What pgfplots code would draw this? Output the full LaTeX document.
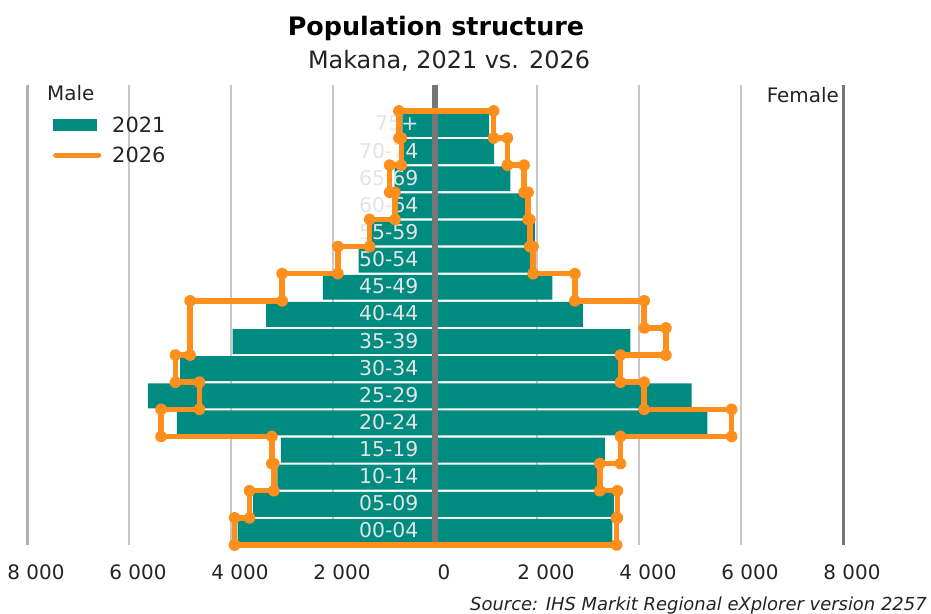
\documentclass[border=0pt]{standalone}
\usepackage{fontspec}
\setmainfont{DejaVu Sans}
\usepackage{pgfplots}
\pgfplotsset{compat=1.18}
\definecolor{teal21}{RGB}{0,139,128}
\definecolor{orange26}{RGB}{255,143,28}
\definecolor{gridgray}{RGB}{200,200,200}
\definecolor{edgegray}{RGB}{176,176,176}
\definecolor{axgray}{RGB}{118,118,118}
\definecolor{txt}{RGB}{35,35,35}
\definecolor{lbl}{RGB}{228,228,228}

\begin{document}
\begin{tikzpicture}
\useasboundingbox (0bp,0bp) rectangle (931bp,-614bp);
\begin{axis}[
  at={(27bp,-545bp)}, anchor=south west,
  scale only axis, width=816bp, height=460bp,
  xmin=-8000, xmax=8000, ymin=-0.5, ymax=16.455,
  xtick={-8000,-6000,-4000,-2000,0,2000,4000,6000,8000},
  xticklabels={8 000,6 000,4 000,2 000,0,2 000,4 000,6 000,8 000},
  ytick=\empty,
  axis line style={draw=none},
  major tick length=0pt,
  xmajorgrids,
  grid style={line width=1.4bp, color=gridgray},
  xticklabel style={font=\fontsize{20}{24}\selectfont, text=txt, anchor=base, yshift=-34bp, xshift=9bp},
  clip=false,
  legend style={at={(axis description cs:0.0319,0.934)}, anchor=north west,
    draw=none, fill=none, inner sep=0pt, row sep=11bp, column sep=10bp,
    font=\fontsize{21}{25}\selectfont, text=txt, nodes={inner sep=1bp}},
  legend cell align=left,
]
% 2021 male (index 0 = 00-04 ... 15 = 75+)
\addplot[xbar, bar width=0.92, bar shift=0pt, fill=teal21, draw=none,
  legend image code/.code={\fill[teal21] (0bp,-6bp) rectangle (44bp,6bp);}]
  coordinates {(-3870,0) (-3570,1) (-3090,2) (-3020,3) (-5060,4) (-5630,5) (-5000,6) (-3970,7)
               (-3310,8) (-2200,9) (-1500,10) (-1270,11) (-770,12) (-790,13) (-630,14) (-640,15)};
\addlegendentry{2021}
% 2021 female
\addplot[xbar, bar width=0.92, bar shift=0pt, fill=teal21, draw=none, forget plot]
  coordinates {(3480,0) (3510,1) (3200,2) (3330,3) (5340,4) (5030,5) (3610,6) (3830,7)
               (2900,8) (2300,9) (1920,10) (1960,11) (1790,12) (1480,13) (1160,14) (1060,15)};
% frame lines
\draw[edgegray, line width=3bp] (axis cs:-8000,-0.5) -- (axis cs:-8000,16.455);
\draw[axgray, line width=3bp] (axis cs:8000,-0.5) -- (axis cs:8000,16.455);
\draw[axgray, line width=5.5bp] (axis cs:0,-0.5) -- (axis cs:0,16.455);
% age group labels
\foreach \i/\lab in {0/00-04,1/05-09,2/10-14,3/15-19,4/20-24,5/25-29,6/30-34,7/35-39,8/40-44,9/45-49,10/50-54,11/55-59,12/60-64,13/65-69,14/70-74,15/75+}{
  \edef\tmp{\noexpand\node[anchor=base east, inner sep=0pt, yshift=-6.5bp, text=lbl, font=\noexpand\fontsize{20.5}{24}\noexpand\selectfont] at (axis cs:-320,\i) {\lab};}
  \tmp
}
% 2026 outline
\addplot[orange26, line width=5.5bp, line join=round, mark=*, mark size=3.2bp,
  mark options={fill=orange26, draw=none},
  legend image code/.code={\draw[orange26, line width=5bp, line cap=round] (2.5bp,0bp) -- (45.5bp,0bp);}]
  coordinates {(-3931,-0.5) (-3931,0.5) (-3637,0.5) (-3637,1.5) (-3160,1.5) (-3160,2.5) (-3199,2.5) (-3199,3.5)
   (-5371,3.5) (-5371,4.5) (-4618,4.5) (-4618,5.5) (-5089,5.5) (-5089,6.5) (-4802,6.5) (-4802,8.5)
   (-2997,8.5) (-2997,9.5) (-1904,9.5) (-1904,10.5) (-1282,10.5) (-1282,11.5) (-785,11.5) (-785,12.5)
   (-889,12.5) (-889,13.5) (-661,13.5) (-661,14.5) (-707,14.5) (-707,15.5)
   (1151,15.5) (1151,14.5) (1420,14.5) (1420,13.5) (1747,13.5) (1747,12.5) (1825,12.5) (1825,11.5)
   (1858,11.5) (1858,10.5) (1923,10.5) (1923,9.5) (2742,9.5) (2742,8.5) (4102,8.5) (4102,7.5)
   (4528,7.5) (4528,6.5) (3637,6.5) (3637,5.5) (4102,5.5) (4102,4.5) (5816,4.5) (5816,3.5)
   (3637,3.5) (3637,2.5) (3232,2.5) (3232,1.5) (3578,1.5) (3578,0.5) (3559,0.5) (3559,-0.5) (-3931,-0.5)};
\addlegendentry{2026}
\end{axis}
\node[anchor=base, inner sep=0pt, font=\fontsize{25.5}{30}\selectfont\bfseries] at (436bp,-35bp) {Population structure};
\node[anchor=base, inner sep=0pt, text=txt, font=\fontsize{24}{28}\selectfont] at (449bp,-68bp) {Makana, 2021 vs. 2026};
\node[anchor=base west, inner sep=0pt, text=txt, font=\fontsize{20}{24}\selectfont] at (47bp,-100bp) {Male};
\node[anchor=base east, inner sep=0pt, text=txt, font=\fontsize{20}{24}\selectfont] at (839bp,-102bp) {Female};
\node[anchor=base west, inner sep=0pt, text=txt, font=\fontsize{18}{22}\selectfont\itshape] at (470bp,-610bp) {Source: IHS Markit Regional eXplorer version 2257};
\end{tikzpicture}
\end{document}
